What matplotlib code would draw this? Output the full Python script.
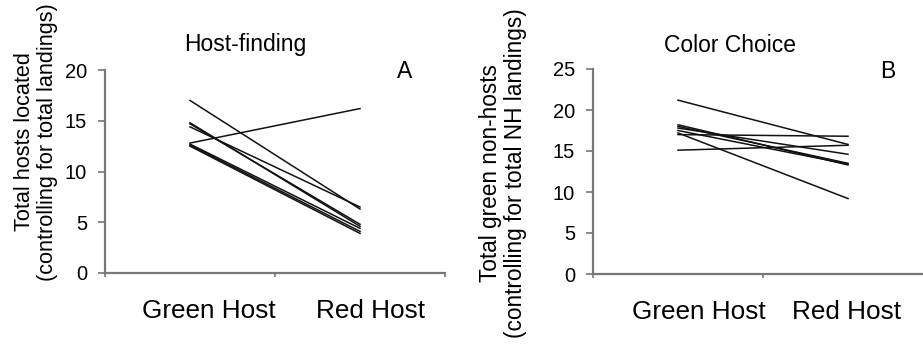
import numpy as np
import matplotlib.pyplot as plt

plt.rcParams['font.family'] = ['Liberation Sans', 'DejaVu Sans']

categories = ['Green Host', 'Red Host']

# panel A: hosts located, one line per trial group
host_green = [17.0, 14.4, 14.8, 14.7, 12.8, 12.7, 12.6, 12.5]
host_red = [6.3, 6.5, 4.6, 4.8, 16.2, 4.4, 4.1, 3.9]

# panel B: green non-hosts
color_green = [21.2, 17.0, 15.1, 17.2, 18.2, 18.0, 17.8, 17.5]
color_red = [15.8, 16.8, 15.7, 9.2, 13.3, 13.5, 14.6, 13.4]

W, H = 923, 347
fig = plt.figure(figsize=(W / 100, H / 100), dpi=100)

axA = fig.add_axes([105 / W, 74 / H, 340 / W, 203 / H])
axB = fig.add_axes([593 / W, 73 / H, 340 / W, 205 / H])

def style(ax, ymax, label_pos):
    x = np.arange(1, len(categories) + 1)
    ax.set_xlim(0.5, 2.5)
    ax.set_ylim(0, ymax)
    ax.set_yticks(np.arange(0, ymax + 1, 5))
    ax.set_xticks([0.5, 1.5, 2.5])
    ax.set_xticklabels([])
    # excel-style labels sit a little off the category centre
    ax.set_xticks(label_pos, minor=True)
    ax.set_xticklabels(categories, minor=True, fontsize=18.8)
    ax.tick_params(axis='x', which='minor', length=0, pad=19)
    ax.tick_params(axis='x', which='major', length=3, color='#777777', width=1.2)
    ax.tick_params(axis='y', length=5, color='#777777', width=1.2, labelsize=14.5, pad=8)
    for s in ['top', 'right']:
        ax.spines[s].set_visible(False)
    for s in ['left', 'bottom']:
        ax.spines[s].set_color('#777777')
        ax.spines[s].set_linewidth(1.6)
    ax.spines['left'].set_bounds(0, ymax)
    return x

x = style(axA, 20, [1.11, 2.06])
for g, r in zip(host_green, host_red):
    axA.plot(x, [g, r], color='#111111', lw=1.1)

x = style(axB, 25, [1.12, 1.99])
for g, r in zip(color_green, color_red):
    axB.plot(x, [g, r], color='#111111', lw=1.1)

fig.text(245 / W, 1 - 45 / H, 'Host-finding', fontsize=16.5, ha='center', va='center')
fig.text(405 / W, 1 - 72 / H, 'A', fontsize=16.5, ha='center', va='center')
fig.text(730 / W, 1 - 45 / H, 'Color Choice', fontsize=16.5, ha='center', va='center')
fig.text(888 / W, 1 - 72 / H, 'B', fontsize=16.5, ha='center', va='center')

fig.text(36 / W, 1 - 142 / H, 'Total hosts located\n(controlling for total landings)',
         fontsize=15.6, rotation=90, ha='center', va='center', linespacing=1.1)
fig.text(503 / W, 1 - 173 / H, 'Total green non-hosts\n(controlling for total NH landings)',
         fontsize=16.3, rotation=90, ha='center', va='center', linespacing=1.1)

fig.savefig('out.png', dpi=100)
